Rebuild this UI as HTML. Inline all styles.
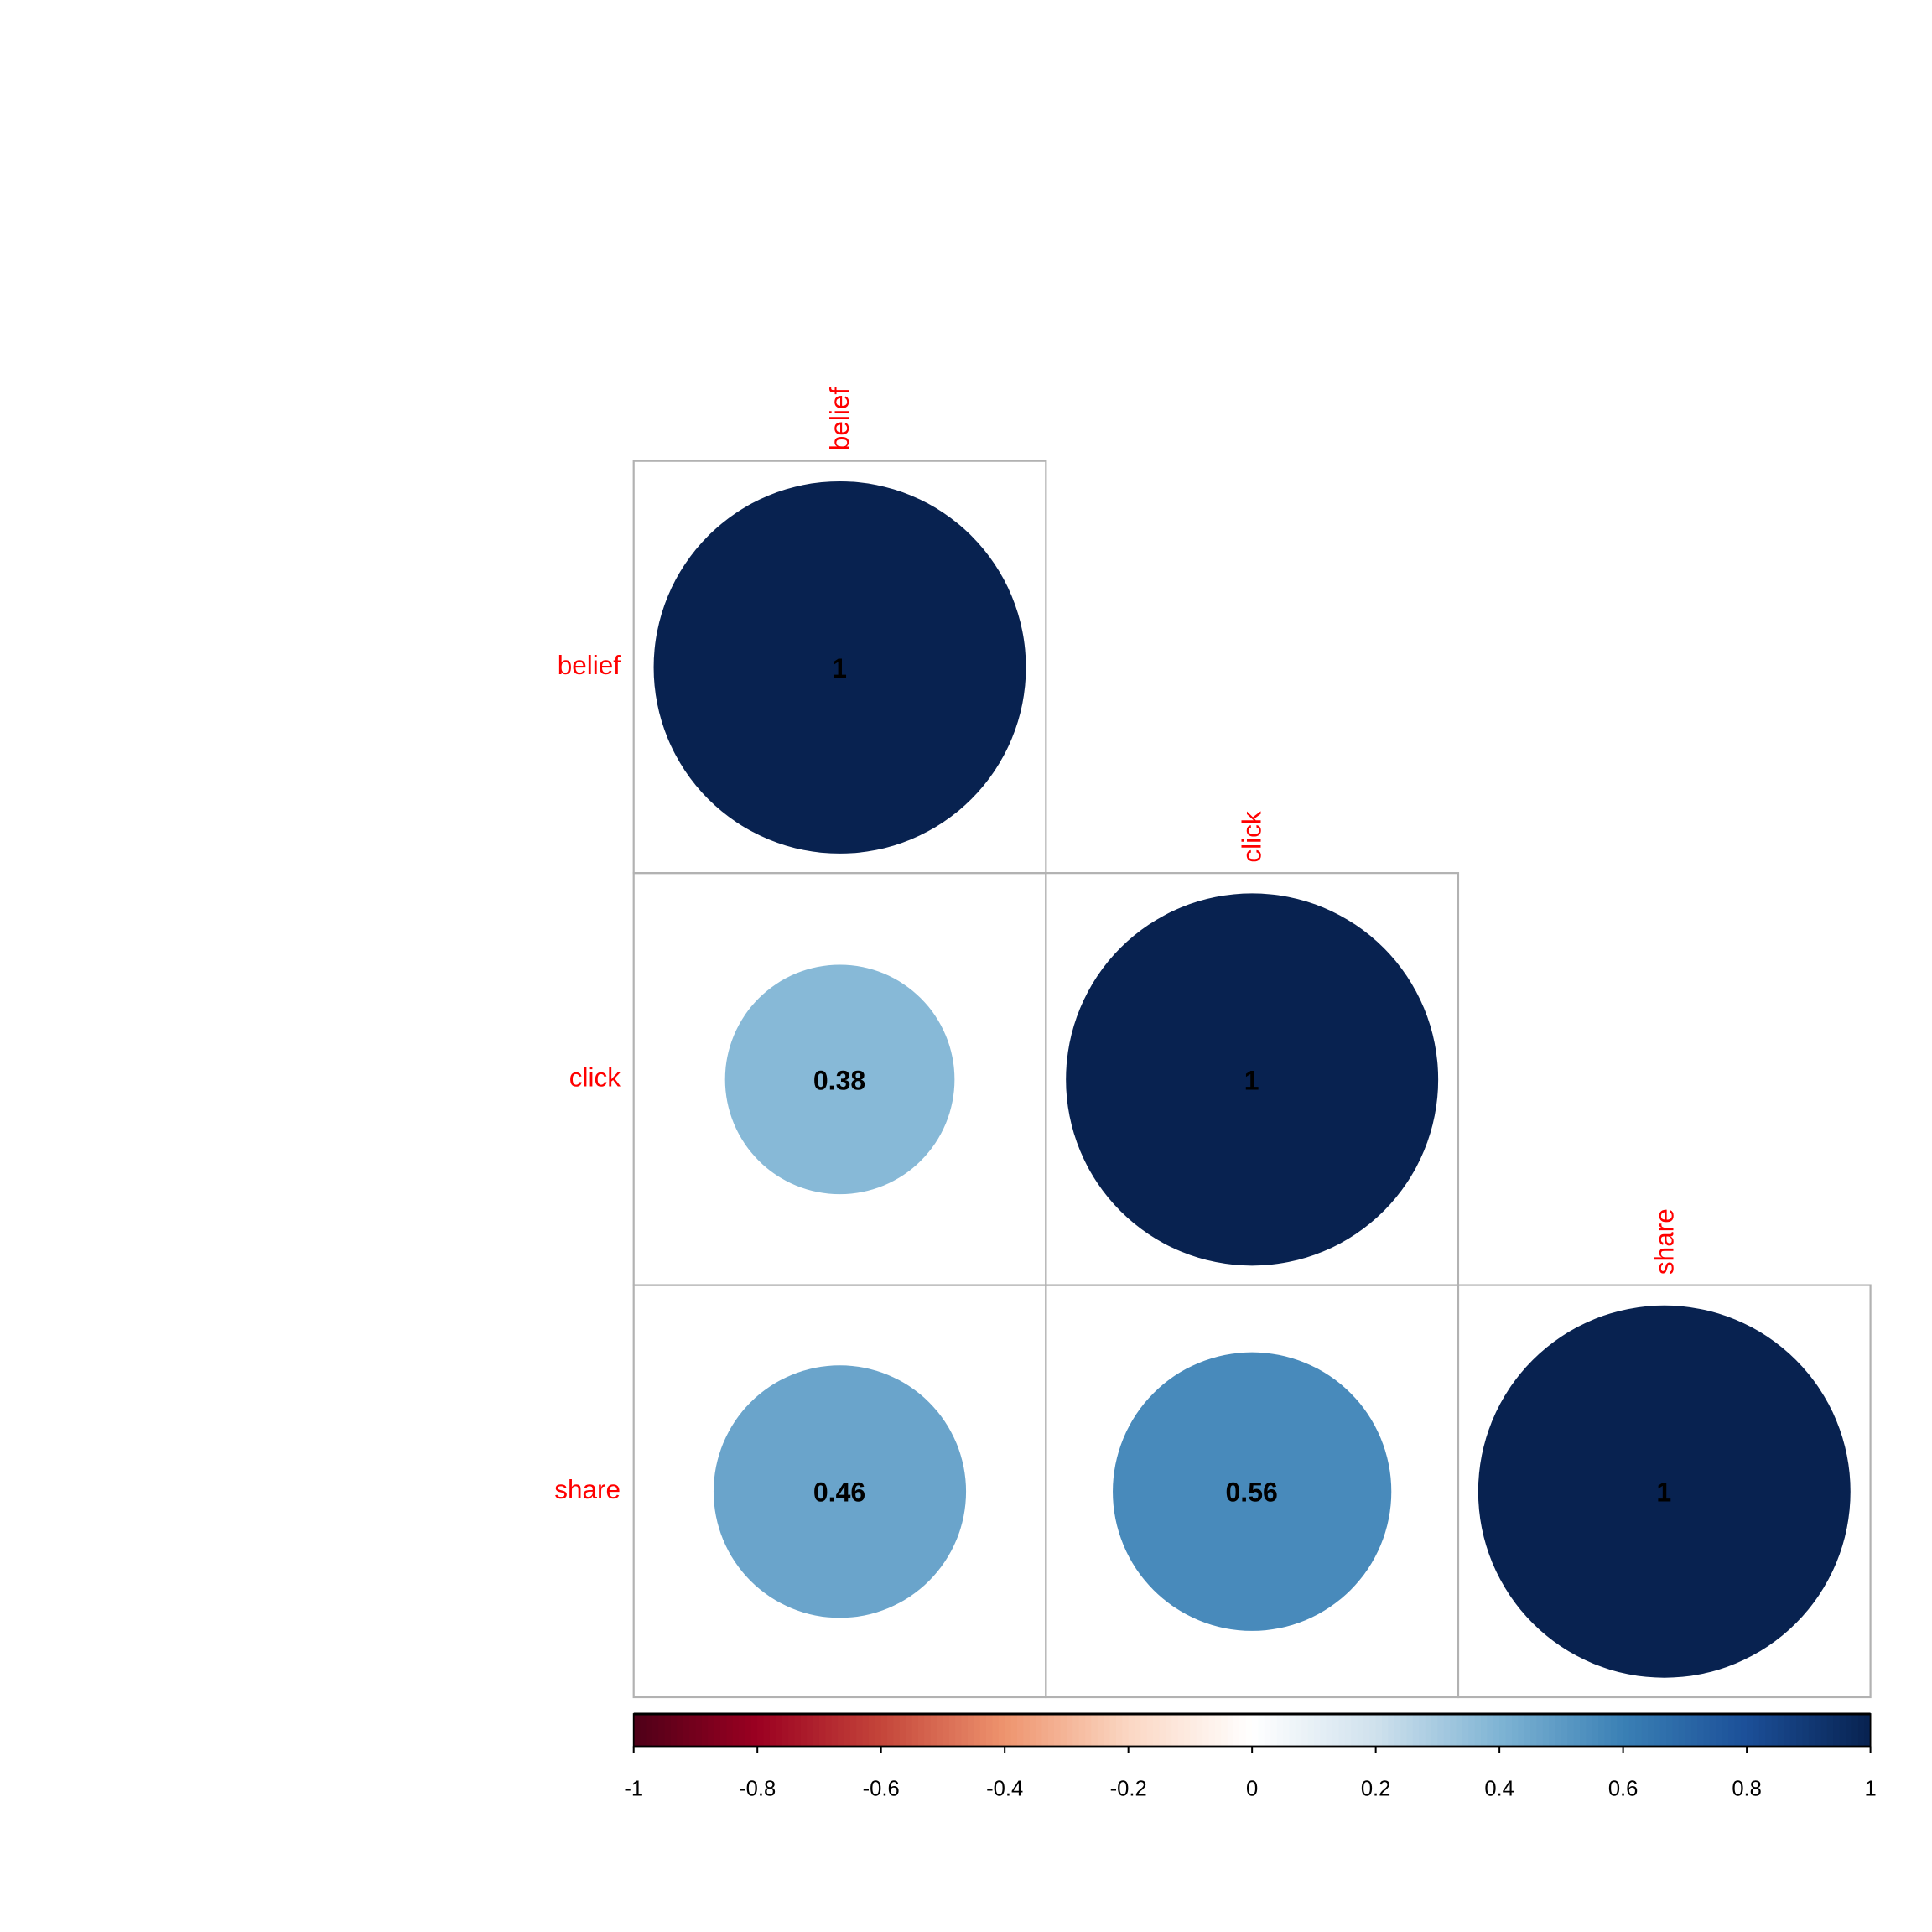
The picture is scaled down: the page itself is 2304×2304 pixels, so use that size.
<!DOCTYPE html>
<html>
<head>
<meta charset="utf-8">
<title>Correlation plot</title>
<style>
html,body{margin:0;padding:0;background:#fff;}
svg{display:block;}
text{font-family:"Liberation Sans",Arial,sans-serif;}
</style>
</head>
<body>
<svg id="chart" xmlns="http://www.w3.org/2000/svg" width="2304" height="2304" viewBox="0 0 2304 2304"></svg>
<script>
const variables = ['belief', 'click', 'share'];
const corrRows = [
  [1],
  [0.38, 1],
  [0.46, 0.56, 1]
];
const barTicks = [-1, -0.8, -0.6, -0.4, -0.2, 0, 0.2, 0.4, 0.6, 0.8, 1];
const tickLabels = ['-1', '-0.8', '-0.6', '-0.4', '-0.2', '0', '0.2', '0.4', '0.6', '0.8', '1'];
const paletteColors = ['#4e0018', '#9b0021', '#c4453a', '#ee946e', '#fbd7c3', '#ffffff', '#cfe1ed', '#7fb4d4', '#3a80b5', '#1b4f98', '#082250'];

const svg = document.getElementById('chart');
const NS = 'http://www.w3.org/2000/svg';
const GRID_L = 755.7, GRID_R = 2230.6, GRID_T = 549.7, GRID_B = 2024;
const CW = (GRID_R - GRID_L) / variables.length;
const CH = (GRID_B - GRID_T) / variables.length;
const BAR_T = 2044, BAR_B = 2082.5;

function make(tag, attrs, parent) {
  const node = document.createElementNS(NS, tag);
  for (const k in attrs) node.setAttribute(k, attrs[k]);
  (parent || svg).appendChild(node);
  return node;
}
function colX(i) { return GRID_L + CW * i; }
function rowY(i) { return GRID_T + CH * i; }
function barX(v) { return GRID_L + (v + 1) / 2 * (GRID_R - GRID_L); }
function hexToRgb(h) { return [1, 3, 5].map(i => parseInt(h.substr(i, 2), 16)); }
function colorFor(v) {
  const pos = Math.max(0, Math.min(1, (v + 1) / 2)) * (paletteColors.length - 1);
  const i = Math.min(Math.floor(pos), paletteColors.length - 2);
  const t = pos - i;
  const a = hexToRgb(paletteColors[i]), b = hexToRgb(paletteColors[i + 1]);
  const c = a.map((x, k) => Math.round(x + (b[k] - x) * t));
  return 'rgb(' + c.join(',') + ')';
}

const bg = make('rect', {x: 0, y: 0, width: 2304, height: 2304, fill: '#ffffff'});



/* grid cells */
corrRows.forEach((row, r) => {
  row.forEach((val, c) => {
    const cell = make('rect', {x: colX(c), y: rowY(r), width: CW, height: CH, fill: 'none', stroke: '#b2b2b2', 'stroke-width': 2.2});
    
    
  });
});

/* circles and values */
corrRows.forEach((row, r) => {
  row.forEach((val, c) => {
    const cx = colX(c) + CW / 2, cy = rowY(r) + CH / 2;
    const circle = make('circle', {cx: cx, cy: cy + 0.5, r: 0.903 * CW / 2 * Math.sqrt(Math.abs(val)), fill: colorFor(val)});
    
    
    const label = make('text', {x: cx - 0.5, y: cy + 12.4, 'text-anchor': 'middle', 'font-size': 32, 'font-weight': 'bold', fill: '#000'});
    label.textContent = String(val);
    
    
  });
});

/* row and column labels */
variables.forEach((name, i) => {
  const rowLabel = make('text', {x: 740, y: rowY(i) + CH / 2 + 8.7, 'text-anchor': 'end', 'font-size': 31.5, fill: '#ff0000'});
  rowLabel.textContent = name;
  
  
  const tx = colX(i) + CW / 2 + 10.5, ty = rowY(i) - 12.5;
  const colLabel = make('text', {x: tx, y: ty, transform: 'rotate(-90 ' + tx + ' ' + ty + ')', 'text-anchor': 'start', 'font-size': 31.5, fill: '#ff0000'});
  colLabel.textContent = name;
  
  
});

/* colour bar */
const barGroup = make('g', {});


const steps = 200;
for (let i = 0; i < steps; i++) {
  const v0 = -1 + 2 * i / steps, v1 = -1 + 2 * (i + 1) / steps;
  const seg = make('rect', {x: barX(v0), y: BAR_T, width: barX(v1) - barX(v0) + 0.6, height: BAR_B - BAR_T, fill: colorFor((v0 + v1) / 2)}, barGroup);
  
  
}
const frame = make('rect', {x: GRID_L, y: BAR_T, width: GRID_R - GRID_L, height: BAR_B - BAR_T, fill: 'none', stroke: '#000', 'stroke-width': 1.8}, barGroup);


const topEdge = make('line', {x1: GRID_L, x2: GRID_R, y1: BAR_T, y2: BAR_T, stroke: '#000', 'stroke-width': 3}, barGroup);



barTicks.forEach((v, i) => {
  const x = barX(v);
  const tick = make('line', {x1: x, x2: x, y1: BAR_B, y2: 2091, stroke: '#000', 'stroke-width': 2});
  
  
  const lab = make('text', {x: x, y: 2141.5, 'text-anchor': 'middle', 'font-size': 25.6, fill: '#000'});
  lab.textContent = tickLabels[i];
  
  
});
</script>
</body>
</html>
